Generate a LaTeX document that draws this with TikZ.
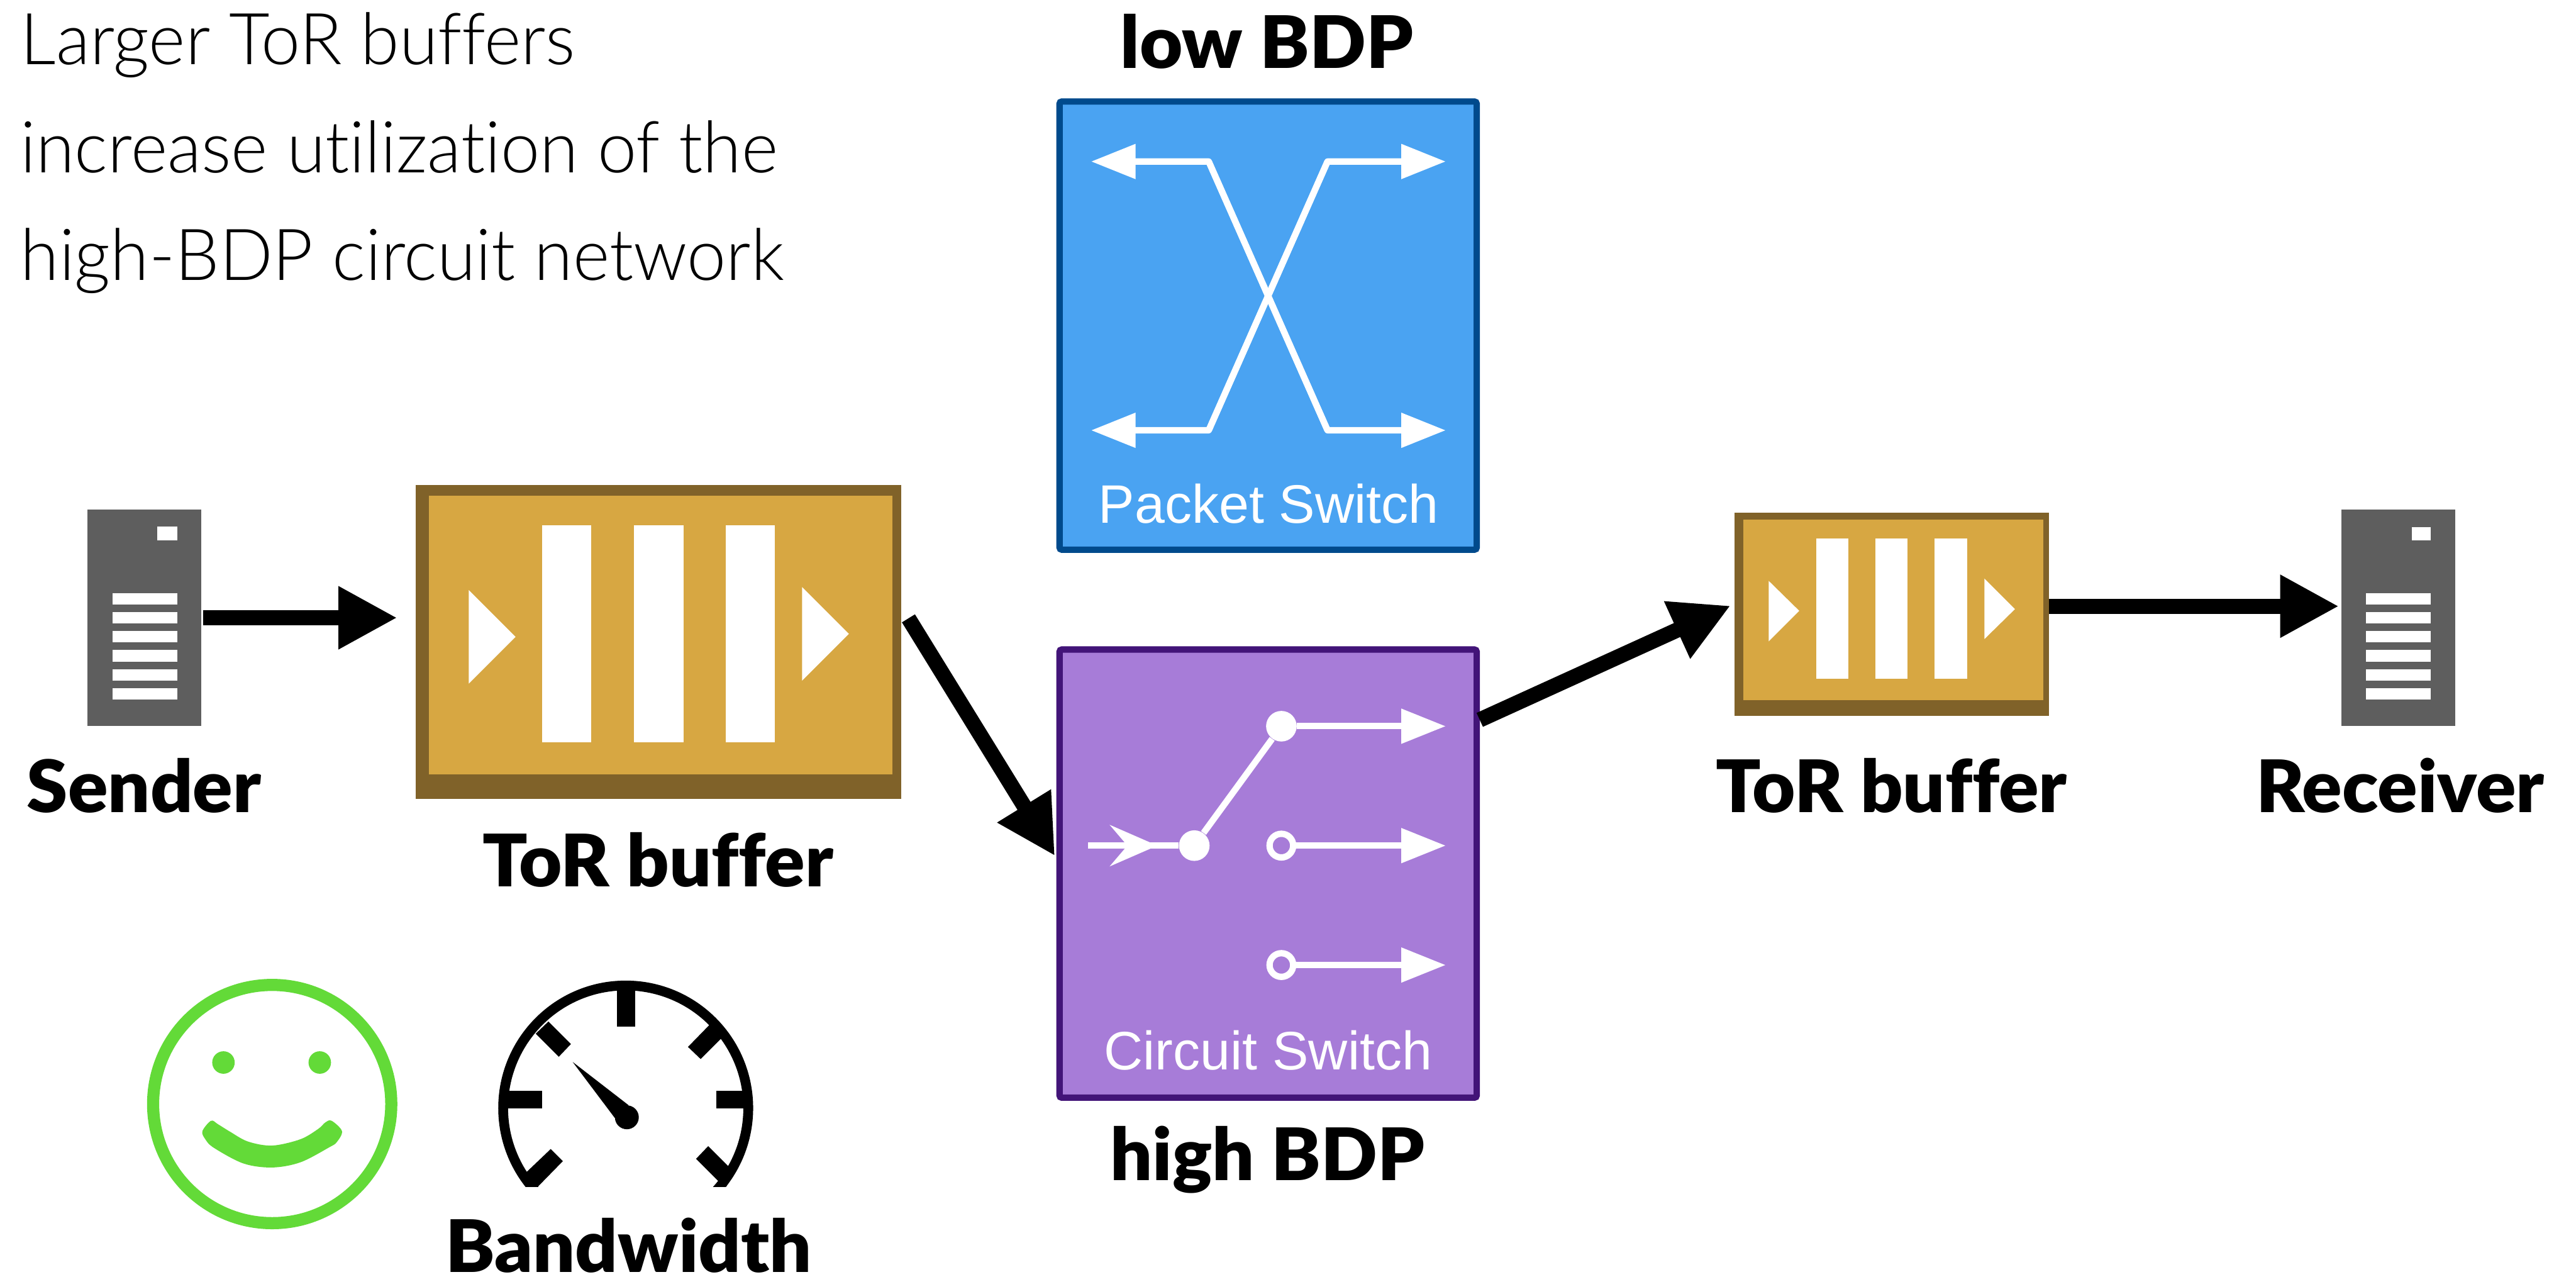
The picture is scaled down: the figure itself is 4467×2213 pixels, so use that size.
\documentclass[tikz,border=0pt]{standalone}
\usepackage{fontspec}
\setmainfont{Lato}
\newfontfamily\lightfont[FakeStretch=0.98,Ligatures=NoCommon]{Lato Light}
\newfontfamily\heavyfont[FakeStretch=1.025,Ligatures=NoCommon]{Lato Black}
\newfontfamily\helvfont{Liberation Sans}
\usetikzlibrary{arrows.meta}
\definecolor{torfill}{HTML}{D7A742}
\definecolor{toredge}{HTML}{806229}
\definecolor{servergray}{HTML}{5E5E5E}
\definecolor{pktfill}{HTML}{4AA3F2}
\definecolor{pktedge}{HTML}{004A8C}
\definecolor{cctfill}{HTML}{A77CD8}
\definecolor{cctedge}{HTML}{421478}
\definecolor{smilegreen}{HTML}{63DA38}
\tikzset{
  server/.style={fill=servergray,minimum width=1.97cm,minimum height=3.74cm,inner sep=0pt},
  torbox/.style={fill=toredge,inner sep=0pt},
  switchbox/.style={draw,line width=.11cm,rounded corners=.04cm,minimum width=7.23cm,minimum height=7.765cm,inner sep=0pt},
  namelabel/.style={font=\heavyfont\fontsize{35.7}{40}\selectfont,inner sep=0pt,anchor=base},
  notelabel/.style={font=\lightfont\fontsize{35.3}{40}\selectfont,inner sep=0pt,anchor=base west},
  switchlabel/.style={font=\helvfont\fontsize{26.7}{30}\selectfont,text=white,inner sep=0pt,anchor=base},
  bigarrow/.style={line width=.265cm,-{Triangle[length=1.02cm,width=1.02cm]}},
  wirearrow/.style={white,line width=.11cm,-{Triangle[length=.77cm,width=.58cm]}},
  wire/.style={white,line width=.11cm},
  opendot/.style={circle,draw=white,line width=.11cm,minimum size=.41cm,inner sep=0pt},
  fulldot/.style={circle,fill=white,minimum size=.53cm,inner sep=0pt},
}
\begin{document}
\begin{tikzpicture}[x=.01cm,y=-.01cm]
  \useasboundingbox (0,0) rectangle (4467,2213);
  % note
  \node[notelabel] (noteA) at (35,112) {Larger ToR buffers};
  \node[notelabel] (noteB) at (35,299) {increase utilization of the};
  \node[notelabel] (noteC) at (35,485.5) {high-BDP circuit network};
  % sender
  \node[server] (sender) at (250.5,1071) {};
  \fill[white] (273,913) rectangle (307,937);
  \fill[white] (195,1028) rectangle (307,1048);
  \fill[white] (195,1061) rectangle (307,1081);
  \fill[white] (195,1094) rectangle (307,1114);
  \fill[white] (195,1127) rectangle (307,1147);
  \fill[white] (195,1160) rectangle (307,1180);
  \fill[white] (195,1193) rectangle (307,1213);
  \node[namelabel] (senderlabel) at (250,1408) {Sender};
  % first buffer
  \node[torbox,minimum width=8.42cm,minimum height=5.44cm] (torA) at (1142,1113) {};
  \fill[torfill] (744,859) rectangle (1548,1343);
  \fill[white] (940,911) rectangle (1025,1287);
  \fill[white] (1099,911) rectangle (1185,1287);
  \fill[white] (1258,911) rectangle (1344,1287);
  \fill[white] (813,1023) -- (894,1104) -- (813,1185) -- cycle;
  \fill[white] (1391,1018) -- (1472,1099) -- (1391,1180) -- cycle;
  \node[namelabel] (torAlabel) at (1141,1537) {ToR buffer};
  % packet switch
  \node[switchbox,draw=pktedge,fill=pktfill] (pkt) at (2199,564.5) {};
  \coordinate (pktA) at (2096,280);
  \coordinate (pktB) at (2302,280);
  \coordinate (pktC) at (2096,746);
  \coordinate (pktD) at (2302,746);
  \coordinate (pktAend) at (1892,280);
  \coordinate (pktBend) at (2507,280);
  \coordinate (pktCend) at (1892,746);
  \coordinate (pktDend) at (2507,746);
  \draw[wirearrow,line join=round] (pktD) -- (pktA) -- (pktAend);
  \draw[wirearrow,line join=round] (pktC) -- (pktB) -- (pktBend);
  \draw[wirearrow,line join=round] (pktA) -- (pktD) -- (pktDend);
  \draw[wirearrow,line join=round] (pktB) -- (pktC) -- (pktCend);
  \node[switchlabel] (pktlabel) at (2200,907) {Packet Switch};
  \node[namelabel] (lowlabel) at (2197,118) {low BDP};
  % circuit switch
  \node[switchbox,draw=cctedge,fill=cctfill] (cct) at (2199,1514.5) {};
  \node[fulldot] (cctin) at (2071,1466) {};
  \node[fulldot] (cctA) at (2222,1259) {};
  \node[opendot] (cctB) at (2222,1466) {};
  \node[opendot] (cctC) at (2222,1673) {};
  \coordinate (cctstart) at (1887,1466);
  \coordinate (cctmid) at (2007,1466);
  \coordinate (cctAend) at (2507,1259);
  \coordinate (cctBend) at (2507,1466);
  \coordinate (cctCend) at (2507,1673);
  \draw[wire] (cctin) -- (cctA);
  \draw[wire] (cctstart) -- (cctin);
  \draw[white,line width=.11cm,-{Stealth[length=.82cm,width=.71cm,inset=.3cm]}] (cctstart) -- (cctmid);
  \draw[wirearrow] (cctA) -- (cctAend);
  \draw[wirearrow] (cctB) -- (cctBend);
  \draw[wirearrow] (cctC) -- (cctCend);
  \node[switchlabel] (cctlabel) at (2199,1855) {Circuit Switch};
  \node[namelabel] (highlabel) at (2198,2046) {high BDP};
  % second buffer
  \node[torbox,minimum width=5.45cm,minimum height=3.52cm] (torB) at (3280.5,1065) {};
  \fill[torfill] (3023,901) rectangle (3543,1214);
  \fill[white] (3149,934) rectangle (3205,1177);
  \fill[white] (3252,934) rectangle (3308,1177);
  \fill[white] (3355,934) rectangle (3411,1177);
  \fill[white] (3067,1007) -- (3120,1059) -- (3067,1112) -- cycle;
  \fill[white] (3441,1003) -- (3494,1056) -- (3441,1108) -- cycle;
  \node[namelabel] (torBlabel) at (3280,1409) {ToR buffer};
  % receiver
  \node[server] (rcv) at (4158.5,1071) {};
  \fill[white] (4182,914) rectangle (4215,937);
  \fill[white] (4103,1028) rectangle (4215,1048);
  \fill[white] (4103,1061) rectangle (4215,1081);
  \fill[white] (4103,1094) rectangle (4215,1114);
  \fill[white] (4103,1127) rectangle (4215,1147);
  \fill[white] (4103,1160) rectangle (4215,1180);
  \fill[white] (4103,1193) rectangle (4215,1213);
  \node[namelabel] (rcvlabel) at (4162,1409) {Receiver};
  % flow
  \coordinate (senderout) at (352,1071);
  \coordinate (torAin) at (689,1071);
  \coordinate (torAout) at (1575.3,1072);
  \coordinate (cctport) at (1829.3,1484);
  \coordinate (cctout) at (2566,1248);
  \coordinate (torBin) at (3001,1050);
  \coordinate (torBout) at (3553,1051);
  \coordinate (rcvin) at (4056,1051);
  \draw[bigarrow] (senderout) -- (torAin);
  \draw[bigarrow] (torAout) -- (cctport);
  \draw[bigarrow] (cctout) -- (torBin);
  \draw[bigarrow] (torBout) -- (rcvin);
  % smiley
  \draw[smilegreen,line width=.21cm] (472,1914) circle[radius=206.5];
  \fill[smilegreen] (387.5,1842) circle[radius=19.5];
  \fill[smilegreen] (554.5,1842) circle[radius=19.5];
  \fill[smilegreen] plot[smooth cycle,tension=.55] coordinates {(366,1943) (378,1949) (399,1962) (430,1979) (472,1986) (521,1975) (552,1957) (564,1946) (575,1943) (593,1961) (584,1980) (571,1989) (521,2015) (472,2024) (422,2017) (371,1990) (356,1975) (351,1961)};
  % gauge
  \begin{scope}
    \clip (800,1650) rectangle (1350,2057);
    \draw[line width=.17cm] (1085,1921) circle[radius=212.5];
  \end{scope}
  \fill (1070,1705) rectangle (1101,1780);
  \fill (870,1891) rectangle (940,1922);
  \fill (1242,1891) rectangle (1300,1922);
  \fill (951,1771) -- (990,1810) -- (969,1832) -- (929,1792) -- cycle;
  \fill (1231,1776) -- (1251,1800) -- (1215,1836) -- (1193,1815) -- cycle;
  \fill (955,1992) -- (976,2013) -- (933,2057) -- (912,2057) -- (913,2032) -- cycle;
  \fill (1228,1987) -- (1207,2009) -- (1246,2048) -- (1240,2057) -- (1260,2057) -- (1264,2023) -- cycle;
  \fill (993,1841) -- (1090,1916) -- (1066,1938) -- cycle;
  \fill (1087,1937) circle[radius=20.7];
  \node[namelabel] (gaugelabel) at (1090,2206) {Bandwidth};
\end{tikzpicture}
\end{document}
